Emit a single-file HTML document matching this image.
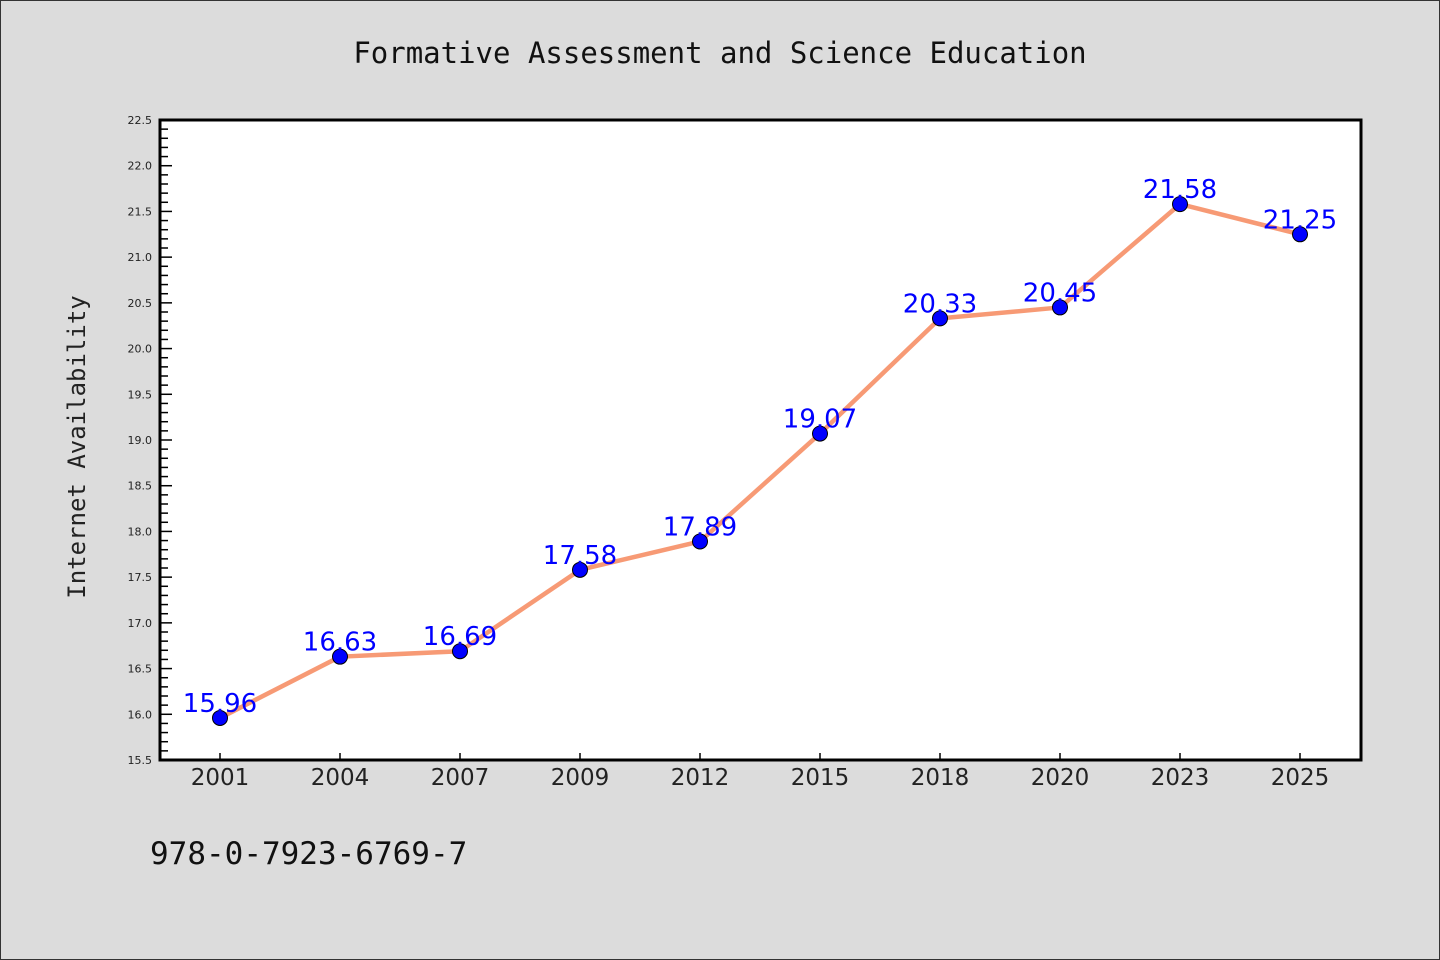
<!DOCTYPE html>
<html><head><meta charset="utf-8"><style>
html,body{margin:0;padding:0;background:#dcdcdc;}
svg{display:block;}
</style></head><body>
<svg width="1440" height="960" xmlns="http://www.w3.org/2000/svg">
<rect x="0.5" y="0.5" width="1439" height="959" fill="#dcdcdc" stroke="#333"/>
<text x="720" y="63" text-anchor="middle" font-family="'DejaVu Sans Mono','Liberation Mono',monospace" font-size="29" fill="#111">Formative Assessment and Science Education</text>
<rect x="160" y="120" width="1201" height="640" fill="#fff"/>
<g id="yaxis"></g>
<g id="xaxis"></g>
<g id="series"></g>
<rect x="160" y="120" width="1201" height="640" fill="none" stroke="#000" stroke-width="3"/>
<text transform="translate(85,447) rotate(-90)" text-anchor="middle" font-family="'DejaVu Sans Mono','Liberation Mono',monospace" font-size="24" fill="#222">Internet Availability</text>
<text x="150" y="864" font-family="'DejaVu Sans Mono','Liberation Mono',monospace" font-size="31" fill="#111">978-0-7923-6769-7</text>
</svg>
<script>
const categories=["2001","2004","2007","2009","2012","2015","2018","2020","2023","2025"];
const values=[15.96,16.63,16.69,17.58,17.89,19.07,20.33,20.45,21.58,21.25];
const yTicks=["15.5","16.0","16.5","17.0","17.5","18.0","18.5","19.0","19.5","20.0","20.5","21.0","21.5","22.0","22.5"];
const NS="http://www.w3.org/2000/svg";
const L=160,R=1361,T=120,B=760,yMin=15.5,yMax=22.5;
const y=v=>B-(v-yMin)/(yMax-yMin)*(B-T);
const x=i=>220+i*120;
function mk(tag,attrs,parent,txt){const e=document.createElementNS(NS,tag);for(const k in attrs)e.setAttribute(k,attrs[k]);if(txt!==undefined)e.textContent=txt;parent.appendChild(e);return e;}
const ya=document.getElementById('yaxis'),xa=document.getElementById('xaxis'),se=document.getElementById('series');
for(let k=0;k<=70;k++){const v=yMin+k*0.1;const major=k%5===0;
 const t=mk('line',{x1:L,x2:L+(major?12:8),y1:y(v),y2:y(v),stroke:'#000','stroke-width':1.5},ya);
 
 }
yTicks.forEach(s=>{const t=mk('text',{x:L-8,y:y(parseFloat(s))+4,'text-anchor':'end','font-family':"'DejaVu Sans','Liberation Sans',sans-serif",'font-size':11,fill:'#222'},ya,s);
 
 });
categories.forEach((c,i)=>{const t=mk('line',{x1:x(i),x2:x(i),y1:B,y2:B-7,stroke:'#000','stroke-width':1.5},xa);
 
 
 const l=mk('text',{x:x(i),y:785,'text-anchor':'middle','font-family':"'DejaVu Sans','Liberation Sans',sans-serif",'font-size':23,fill:'#222'},xa,c);
 
 });
const line=mk('polyline',{points:values.map((v,i)=>x(i)+','+y(v)).join(' '),fill:'none',stroke:'#f79a75','stroke-width':4.5,'stroke-linejoin':'round'},se);


values.forEach((v,i)=>{const c=mk('circle',{cx:x(i),cy:y(v),r:7.5,fill:'#0000ff',stroke:'#000','stroke-width':1},se);
 
 });
values.forEach((v,i)=>{const t=mk('text',{x:x(i),y:y(v)-6,'text-anchor':'middle','font-family':"'DejaVu Sans','Liberation Sans',sans-serif",'font-size':26,fill:'#0000ff'},se,v.toFixed(2));
 
 });
</script>
</body></html>
